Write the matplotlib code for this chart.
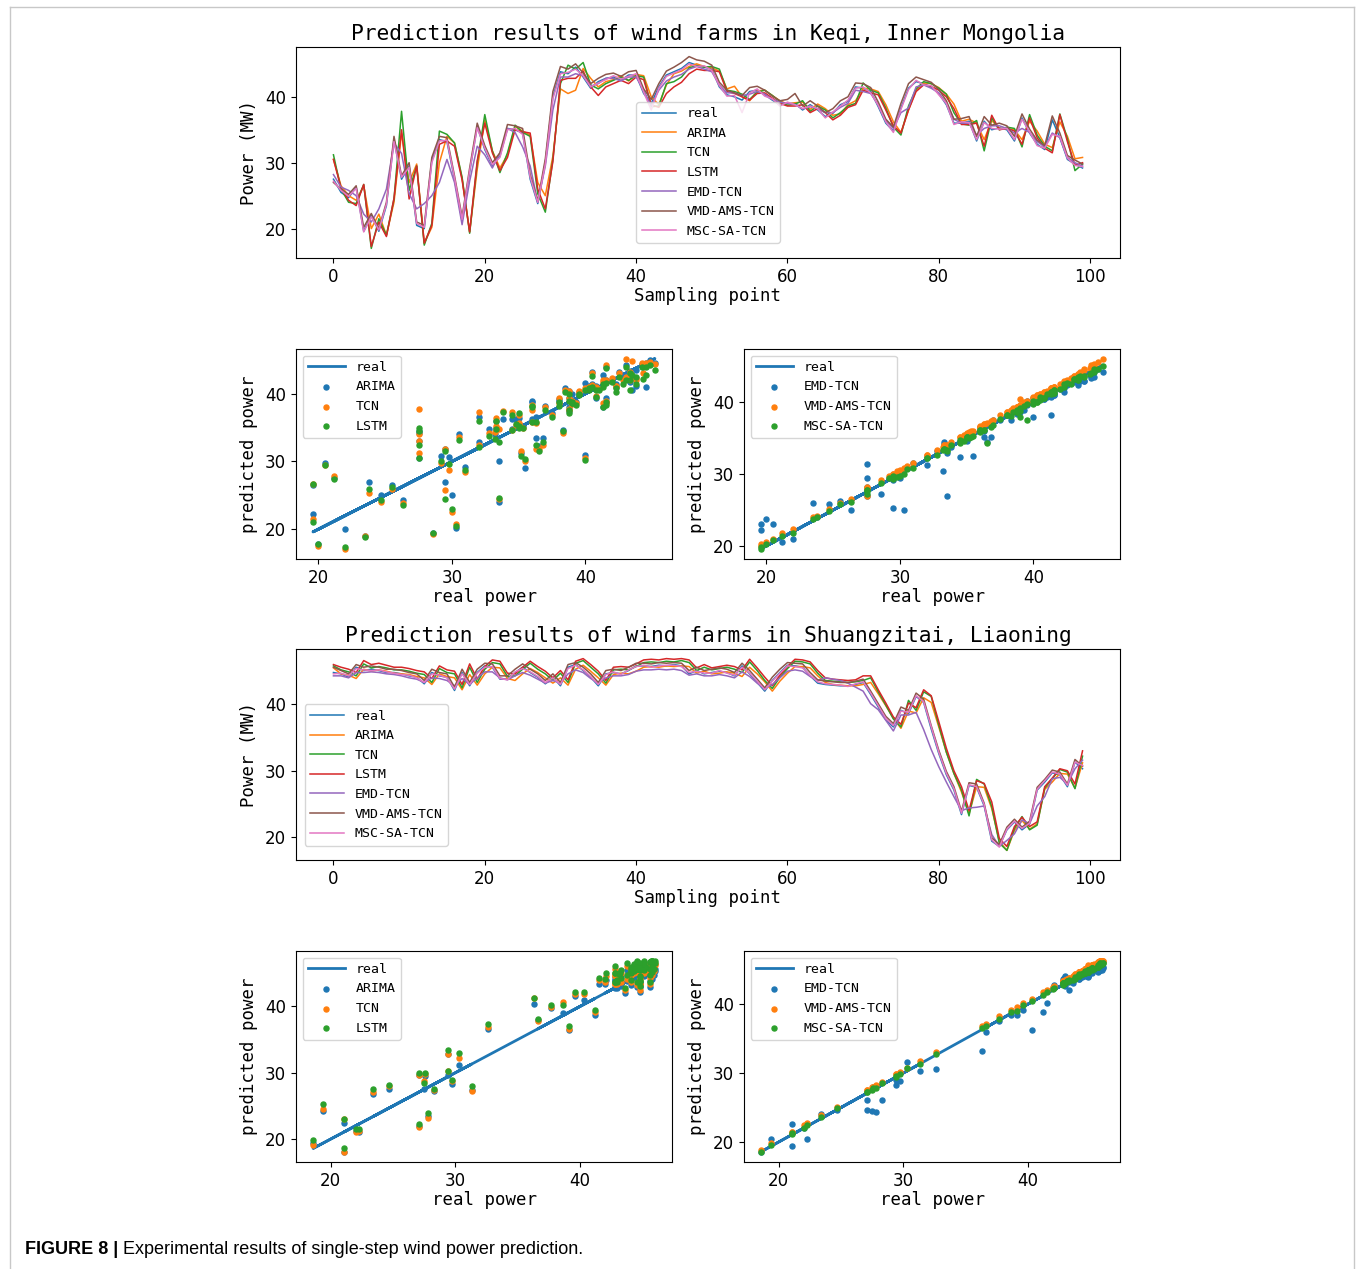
import matplotlib
matplotlib.use('Agg')
import matplotlib.pyplot as plt
from matplotlib.lines import Line2D

# ---------------- data: Keqi, Inner Mongolia ----------------
keqi_real = [27.5, 25.5, 24.7, 26.3, 19.6, 22.0, 19.6, 23.5, 33.5, 27.5,
             29.5, 20.5, 20.0, 30.3, 33.5, 33.2, 27.5, 21.2, 28.6, 35.5,
             32.0, 29.5, 31.0, 35.2, 35.0, 34.5, 27.5, 23.8, 30.0, 40.0,
             43.8, 43.5, 44.5, 43.0, 41.3, 42.3, 42.8, 43.0, 42.5, 43.3,
             43.3, 40.5, 39.0, 41.5, 43.3, 43.8, 44.3, 45.2, 44.8, 44.5,
             44.2, 41.5, 40.3, 40.0, 39.5, 40.8, 41.0, 40.3, 39.5, 38.8,
             39.0, 39.0, 38.0, 38.8, 38.0, 37.0, 37.5, 38.8, 39.3, 41.5,
             41.3, 40.8, 38.5, 36.0, 34.8, 38.3, 41.3, 42.3, 42.0, 41.5,
             40.5, 38.8, 36.0, 36.0, 36.3, 33.3, 36.3, 35.0, 35.3, 35.0,
             33.3, 36.8, 34.5, 32.8, 32.0, 36.5, 33.8, 30.5, 29.8, 29.2]
keqi_arima = [30.5, 26.5, 25.0, 24.3, 26.5, 20.0, 22.2, 19.0, 24.0, 34.5,
              27.0, 29.8, 17.8, 20.2, 30.0, 34.0, 33.0, 27.6, 19.5, 29.0,
              36.5, 31.8, 29.2, 31.2, 35.5, 34.8, 34.2, 27.0, 25.0, 31.0,
              41.2, 40.5, 41.0, 44.3, 42.8, 41.5, 42.3, 42.6, 43.2, 42.4,
              43.4, 43.2, 40.0, 38.8, 41.8, 43.5, 43.9, 44.6, 45.0, 44.6,
              44.4, 43.9, 41.2, 41.6, 40.0, 39.4, 40.9, 41.0, 40.2, 39.4,
              38.9, 39.1, 39.2, 38.1, 38.9, 38.2, 37.2, 37.4, 38.8, 39.4,
              41.3, 41.2, 40.8, 38.8, 36.2, 34.6, 38.0, 41.0, 42.1, 42.0,
              41.4, 40.4, 38.9, 36.3, 36.6, 36.0, 33.5, 36.4, 35.2, 35.2,
              35.0, 33.5, 36.3, 34.8, 32.8, 32.3, 36.2, 34.0, 30.6, 30.8]
keqi_tcn = [31.2, 26.0, 24.0, 23.8, 26.7, 17.0, 21.5, 19.0, 24.5, 37.8,
            25.8, 29.5, 17.5, 20.8, 34.8, 34.3, 33.0, 27.8, 19.3, 30.0,
            37.3, 31.8, 28.5, 31.5, 35.7, 34.6, 34.0, 25.3, 22.5, 30.5,
            42.0, 44.8, 44.2, 45.2, 41.8, 41.2, 42.0, 42.5, 43.0, 42.5,
            43.2, 43.0, 38.5, 38.6, 42.0, 42.3, 43.0, 44.4, 44.7, 44.5,
            44.6, 44.2, 41.0, 40.8, 40.4, 39.6, 40.7, 41.0, 40.2, 39.3,
            38.7, 38.9, 39.4, 37.8, 38.6, 38.0, 36.8, 37.6, 38.6, 39.0,
            42.1, 41.0, 40.6, 38.3, 35.4, 34.2, 38.6, 41.2, 42.3, 42.0,
            41.3, 40.4, 37.6, 35.9, 35.7, 36.4, 31.8, 36.8, 35.0, 35.4,
            35.2, 32.4, 37.3, 34.2, 32.5, 31.8, 37.4, 33.6, 28.8, 29.8]
keqi_lstm = [30.5, 26.2, 24.3, 23.5, 26.7, 17.3, 21.0, 18.8, 24.6, 35.0,
             24.5, 29.5, 17.8, 20.5, 32.8, 33.3, 32.5, 27.4, 19.5, 30.3,
             36.0, 31.5, 28.8, 30.8, 35.0, 34.7, 34.5, 26.0, 23.0, 30.2,
             42.5, 42.8, 42.8, 43.9, 41.5, 40.2, 41.5, 42.0, 42.5, 42.0,
             43.0, 42.6, 38.8, 38.4, 40.5, 41.5, 42.2, 43.5, 44.2, 44.0,
             44.0, 43.8, 40.8, 40.5, 40.0, 39.5, 40.5, 40.6, 39.8, 39.0,
             38.6, 38.6, 38.8, 37.6, 38.2, 37.6, 36.5, 37.2, 38.4, 38.8,
             41.0, 40.6, 40.3, 38.0, 35.6, 34.5, 38.0, 40.8, 41.8, 41.6,
             41.0, 40.0, 38.2, 35.8, 35.8, 36.0, 32.5, 37.2, 35.0, 35.2,
             34.8, 32.8, 36.8, 33.8, 32.2, 31.5, 37.3, 33.2, 29.6, 30.0]
keqi_emd = [28.2, 26.3, 25.8, 25.0, 22.2, 21.0, 23.0, 26.0, 33.0, 31.4,
            25.3, 23.0, 23.8, 25.0, 27.0, 30.5, 27.0, 20.6, 27.2, 32.5,
            31.2, 29.2, 31.5, 35.2, 34.6, 32.4, 29.5, 24.0, 29.5, 38.0,
            43.0, 43.0, 43.5, 43.2, 41.6, 42.0, 42.8, 42.8, 42.4, 43.0,
            43.0, 41.0, 38.6, 41.0, 42.4, 43.0, 43.4, 44.2, 44.6, 44.2,
            43.8, 41.8, 40.6, 40.6, 40.2, 40.4, 40.8, 40.4, 39.6, 39.2,
            39.0, 38.8, 38.2, 38.5, 38.2, 37.6, 37.6, 38.4, 39.0, 41.0,
            40.8, 40.5, 38.8, 36.4, 35.2, 37.6, 38.3, 41.5, 41.8, 41.3,
            40.6, 39.0, 36.6, 36.0, 36.0, 34.2, 35.2, 35.6, 35.6, 35.2,
            34.5, 35.2, 34.6, 33.2, 32.4, 34.5, 33.8, 30.8, 30.0, 29.5]
keqi_vmd = [27.0, 26.0, 25.2, 26.5, 20.2, 22.3, 20.0, 24.0, 34.0, 28.0,
            30.0, 21.0, 20.5, 30.8, 34.0, 33.8, 28.0, 21.8, 29.2, 36.0,
            32.6, 30.0, 31.5, 35.8, 35.6, 35.2, 28.2, 24.2, 30.6, 40.8,
            44.6, 44.2, 45.0, 43.6, 42.0, 42.8, 43.4, 43.6, 43.1, 43.8,
            44.0, 41.2, 39.6, 42.0, 43.9, 44.5, 45.2, 46.1, 45.6, 45.4,
            44.8, 42.2, 41.0, 40.6, 40.2, 41.4, 41.6, 41.0, 40.1, 39.4,
            39.6, 40.5, 38.6, 39.4, 38.6, 37.6, 38.2, 39.4, 40.0, 42.1,
            42.0, 41.4, 39.2, 36.6, 35.4, 39.0, 42.0, 43.0, 42.6, 42.2,
            41.1, 39.4, 36.6, 36.7, 37.0, 34.0, 37.0, 35.7, 36.0, 35.6,
            34.0, 37.4, 35.1, 33.4, 32.6, 37.1, 34.5, 31.1, 30.4, 29.8]
keqi_msc = [27.2, 25.8, 24.9, 26.1, 19.5, 21.8, 19.8, 23.7, 33.2, 27.8,
            29.3, 20.8, 20.2, 30.0, 33.3, 33.4, 27.7, 21.4, 28.8, 35.3,
            32.2, 29.7, 30.8, 35.0, 35.2, 34.3, 27.8, 24.0, 29.8, 39.7,
            43.5, 43.7, 44.2, 43.2, 41.5, 42.1, 42.6, 43.2, 42.7, 43.1,
            43.5, 40.7, 38.0, 41.3, 43.1, 43.6, 44.1, 45.0, 44.6, 44.7,
            44.0, 41.7, 40.1, 40.2, 37.6, 40.6, 41.2, 40.1, 39.7, 38.6,
            39.2, 38.8, 38.2, 38.6, 38.2, 36.8, 37.7, 38.6, 39.5, 41.3,
            41.5, 40.6, 38.7, 36.2, 34.6, 38.1, 41.1, 42.5, 41.8, 41.7,
            40.3, 39.0, 35.8, 36.2, 36.1, 33.5, 36.1, 35.2, 35.1, 35.2,
            33.5, 36.6, 34.7, 32.6, 32.2, 34.3, 34.0, 30.7, 29.6, 29.4]

# ---------------- data: Shuangzitai, Liaoning ----------------
szt_real = [44.8, 44.6, 44.1, 45.6, 45.1, 45.3, 45.1, 44.8, 44.8, 44.6,
            44.3, 44.1, 43.1, 44.8, 44.3, 44.1, 42.1, 44.8, 42.8, 44.8,
            45.8, 45.6, 43.8, 43.8, 44.8, 45.6, 44.8, 44.1, 43.1, 44.1,
            42.8, 45.6, 46.0, 45.1, 44.1, 42.8, 44.6, 44.8, 44.6, 45.1,
            45.8, 45.8, 45.7, 45.9, 45.8, 46.0, 45.8, 44.6, 45.1, 44.6,
            44.8, 45.0, 44.8, 44.3, 45.8, 44.6, 43.3, 42.0, 43.6, 44.8,
            45.9, 45.8, 45.6, 44.3, 43.2, 43.0, 42.9, 42.8, 42.8, 43.0,
            43.3, 41.5, 39.6, 37.7, 36.6, 39.1, 38.6, 41.2, 40.3, 36.3,
            32.6, 29.4, 27.1, 23.4, 27.8, 27.5, 24.7, 19.4, 18.6, 21.1,
            22.3, 21.1, 22.0, 27.1, 28.3, 29.7, 29.4, 27.6, 31.3, 30.3]
szt_arima = [45.5, 44.6, 44.4, 43.9, 45.3, 45.0, 45.2, 45.0, 44.7, 44.6,
             44.5, 44.2, 44.0, 43.0, 44.6, 44.2, 44.0, 42.2, 44.5, 42.9,
             44.6, 45.6, 45.5, 43.9, 43.6, 44.6, 45.4, 44.8, 44.0, 43.2,
             44.0, 42.9, 45.3, 45.9, 45.0, 44.0, 42.9, 44.5, 44.7, 44.6,
             45.0, 45.6, 45.7, 45.6, 45.8, 45.7, 45.8, 45.7, 44.7, 45.0,
             44.6, 44.7, 44.9, 44.7, 44.2, 45.6, 44.6, 43.4, 42.0, 43.5,
             44.7, 45.7, 45.7, 45.5, 44.3, 43.3, 43.0, 42.9, 42.8, 42.8,
             43.0, 43.3, 41.6, 39.8, 37.9, 36.4, 39.0, 38.7, 41.0, 40.3,
             36.6, 32.8, 29.6, 26.8, 23.5, 27.6, 27.5, 24.3, 19.4, 18.0,
             21.0, 22.5, 21.2, 22.0, 27.2, 28.3, 29.6, 29.5, 27.4, 31.2]
szt_tcn = [45.8, 45.2, 44.9, 44.3, 46.1, 45.5, 45.7, 45.5, 45.2, 45.2,
           45.0, 44.7, 44.5, 43.3, 45.4, 44.8, 44.6, 42.5, 45.6, 43.3,
           45.3, 46.3, 46.1, 44.2, 44.3, 45.3, 46.2, 45.3, 44.6, 43.6,
           44.7, 43.3, 46.2, 46.6, 45.6, 44.6, 43.2, 45.2, 45.3, 45.2,
           45.7, 46.3, 46.4, 46.3, 46.5, 46.4, 46.6, 46.3, 45.1, 45.6,
           45.2, 45.4, 45.6, 45.3, 44.8, 46.4, 45.1, 43.6, 42.4, 44.1,
           45.4, 46.5, 46.4, 46.1, 44.7, 43.6, 43.5, 43.4, 43.3, 43.4,
           43.6, 44.0, 41.9, 39.9, 37.8, 36.6, 40.6, 39.1, 41.9, 41.2,
           36.9, 32.8, 29.6, 27.1, 23.2, 28.7, 28.0, 24.6, 19.1, 18.0,
           21.3, 23.1, 21.1, 21.8, 27.4, 28.8, 30.2, 29.8, 27.3, 32.2]
szt_lstm = [46.0, 45.6, 45.3, 44.8, 46.6, 46.0, 46.2, 45.9, 45.6, 45.6,
            45.4, 45.1, 44.9, 43.9, 45.8, 45.2, 45.0, 43.0, 46.1, 43.8,
            45.7, 46.7, 46.5, 44.7, 44.6, 45.6, 46.5, 45.7, 45.0, 44.0,
            45.1, 43.7, 46.5, 46.9, 46.0, 45.0, 43.6, 45.6, 45.7, 45.6,
            46.1, 46.7, 46.8, 46.7, 46.9, 46.8, 46.9, 46.7, 45.5, 46.0,
            45.5, 45.7, 45.9, 45.7, 45.2, 46.8, 45.5, 44.1, 42.8, 44.4,
            45.7, 46.8, 46.7, 46.4, 45.1, 44.0, 43.8, 43.7, 43.6, 43.7,
            44.3, 44.3, 42.2, 40.2, 38.1, 37.0, 40.2, 39.5, 42.2, 41.3,
            37.4, 33.4, 30.0, 27.6, 24.0, 28.5, 28.1, 25.3, 19.8, 18.6,
            21.6, 23.0, 21.6, 22.3, 27.6, 28.9, 30.3, 30.0, 28.0, 33.0]
szt_emd = [44.3, 44.3, 44.0, 44.8, 44.8, 44.9, 44.8, 44.6, 44.5, 44.3,
           44.0, 43.8, 43.3, 44.0, 43.9, 43.6, 42.8, 43.9, 43.0, 44.0,
           44.9, 44.9, 44.0, 43.7, 44.3, 44.8, 44.4, 43.8, 43.2, 43.6,
           43.2, 44.6, 45.2, 44.8, 43.9, 43.2, 44.0, 44.3, 44.3, 44.5,
           45.0, 45.2, 45.2, 45.3, 45.2, 45.3, 45.1, 44.4, 44.6, 44.3,
           44.3, 44.5, 44.3, 44.0, 44.9, 44.2, 43.2, 42.4, 43.0, 44.0,
           45.0, 45.2, 45.0, 44.2, 43.6, 44.0, 43.8, 43.6, 43.2, 42.6,
           42.0, 40.1, 39.2, 37.6, 36.0, 38.4, 38.4, 38.8, 36.2, 33.2,
           30.6, 28.3, 26.1, 24.0, 24.4, 24.5, 24.7, 20.4, 18.6, 19.5,
           20.5, 22.6, 22.0, 24.7, 26.1, 28.8, 29.0, 28.0, 30.3, 31.6]
szt_vmd = [45.6, 45.1, 44.6, 46.0, 45.6, 45.8, 45.6, 45.3, 45.3, 45.1,
           44.8, 44.6, 43.6, 45.3, 44.8, 44.6, 42.6, 45.3, 43.3, 45.3,
           46.2, 46.1, 44.3, 44.3, 45.3, 46.1, 45.3, 44.6, 43.6, 44.6,
           43.3, 46.0, 46.3, 45.6, 44.6, 43.3, 45.1, 45.3, 45.1, 45.6,
           46.2, 46.2, 46.1, 46.3, 46.2, 46.3, 46.2, 45.1, 45.6, 45.1,
           45.3, 45.5, 45.3, 44.8, 46.2, 45.1, 43.8, 42.5, 44.1, 45.3,
           46.3, 46.2, 46.1, 44.8, 43.7, 43.5, 43.4, 43.3, 43.3, 43.5,
           43.8, 42.0, 40.1, 38.2, 37.1, 39.6, 39.1, 41.7, 40.8, 36.8,
           33.1, 29.9, 27.6, 23.9, 28.2, 28.0, 25.1, 19.9, 18.9, 21.5,
           22.7, 21.5, 22.4, 27.5, 28.7, 30.1, 29.8, 28.0, 31.7, 30.7]
szt_msc = [44.6, 44.7, 44.3, 45.4, 45.2, 45.1, 45.2, 44.9, 44.7, 44.5,
           44.4, 44.0, 43.3, 44.6, 44.4, 44.0, 42.3, 44.6, 43.0, 44.7,
           45.6, 45.7, 43.9, 43.7, 44.9, 45.4, 44.9, 44.2, 43.3, 44.0,
           43.0, 45.4, 45.9, 45.2, 44.2, 43.0, 44.5, 44.9, 44.5, 45.2,
           45.7, 45.9, 45.6, 45.8, 45.9, 45.9, 45.7, 44.8, 45.0, 44.7,
           44.7, 45.1, 44.7, 44.4, 45.6, 44.7, 43.5, 42.2, 43.5, 44.7,
           45.8, 45.7, 45.5, 44.4, 43.4, 43.1, 43.0, 42.9, 42.7, 43.1,
           43.4, 41.7, 39.8, 37.9, 36.8, 39.0, 38.8, 41.3, 40.4, 36.6,
           32.8, 29.6, 27.3, 23.6, 27.9, 27.6, 24.9, 19.6, 18.5, 21.2,
           22.4, 21.3, 22.1, 27.2, 28.5, 29.8, 29.5, 27.8, 31.3, 30.8]

series_names = ['real', 'ARIMA', 'TCN', 'LSTM', 'EMD-TCN', 'VMD-AMS-TCN', 'MSC-SA-TCN']
titles = ['Prediction results of wind farms in Keqi, Inner Mongolia',
          'Prediction results of wind farms in Shuangzitai, Liaoning']
caption_bold = 'FIGURE 8 |'
caption_text = 'Experimental results of single-step wind power prediction.'

keqi = [keqi_real, keqi_arima, keqi_tcn, keqi_lstm, keqi_emd, keqi_vmd, keqi_msc]
szt = [szt_real, szt_arima, szt_tcn, szt_lstm, szt_emd, szt_vmd, szt_msc]

# ---------------- figure ----------------
W, H = 1357, 1269
fig = plt.figure(figsize=(W / 100, H / 100), dpi=100)
MONO = 'DejaVu Sans Mono'
colors = ['C0', 'C1', 'C2', 'C3', 'C4', 'C5', 'C6']


def ax_px(l, t, r, b):
    return fig.add_axes([l / W, 1 - b / H, (r - l) / W, (b - t) / H])


def style(ax):
    ax.tick_params(labelsize=12)


def line_panel(ax, data, title, legend_center):
    xs = list(range(len(data[0])))
    for k, (name, ys) in enumerate(zip(series_names, data)):
        ax.plot(xs, ys, color=colors[k], lw=1.1, label=name)
    ax.set_title(title, fontfamily=MONO, fontsize=15.3, pad=5)
    ax.set_xlabel('Sampling point', fontfamily=MONO, fontsize=12.5, labelpad=1)
    ax.set_ylabel('Power (MW)', fontfamily=MONO, fontsize=12.5, labelpad=5)
    ax.set_xticks([0, 20, 40, 60, 80, 100])
    ax.set_yticks([20, 30, 40])
    style(ax)
    ax.legend(loc='center', bbox_to_anchor=legend_center,
              prop={'family': MONO, 'size': 9.5}, handlelength=2.6,
              labelspacing=0.5)


def scatter_panel(ax, real, preds, names):
    ax.plot(real, real, color='C0', lw=2.0, label='real')
    for k, (p, n) in enumerate(zip(preds, names)):
        ax.scatter(real, p, s=13, color=colors[k], label=n, zorder=3)
    ax.set_xlabel('real power', fontfamily=MONO, fontsize=12.5, labelpad=1)
    ax.set_ylabel('predicted power', fontfamily=MONO, fontsize=12.5, labelpad=5)
    ax.set_xticks([20, 30, 40])
    ax.set_yticks([20, 30, 40])
    style(ax)
    ax.legend(loc='upper left', prop={'family': MONO, 'size': 9.5},
              handlelength=2.8, labelspacing=0.5, scatterpoints=1)


ax1 = ax_px(296, 47, 1120, 258)
line_panel(ax1, keqi, titles[0], (0.5, 0.405))

ax2 = ax_px(296, 349, 672, 559)
scatter_panel(ax2, keqi_real, [keqi_arima, keqi_tcn, keqi_lstm], series_names[1:4])
ax3 = ax_px(744, 349, 1120, 559)
scatter_panel(ax3, keqi_real, [keqi_emd, keqi_vmd, keqi_msc], series_names[4:7])

ax4 = ax_px(296, 649, 1120, 860)
line_panel(ax4, szt, titles[1], (0.0975, 0.403))

ax5 = ax_px(296, 951, 672, 1162)
scatter_panel(ax5, szt_real, [szt_arima, szt_tcn, szt_lstm], series_names[1:4])
ax6 = ax_px(744, 951, 1120, 1162)
scatter_panel(ax6, szt_real, [szt_emd, szt_vmd, szt_msc], series_names[4:7])

# outer frame of the figure panel
fc = '#c8c8c8'
fig.add_artist(Line2D([10 / W, 10 / W], [0, 1 - 7 / H], color=fc, lw=1, transform=fig.transFigure))
fig.add_artist(Line2D([1354 / W, 1354 / W], [0, 1 - 7 / H], color=fc, lw=1, transform=fig.transFigure))
fig.add_artist(Line2D([10 / W, 1354 / W], [1 - 7 / H, 1 - 7 / H], color=fc, lw=1, transform=fig.transFigure))

# caption
t1 = fig.text(25 / W, 1 - 1250 / H, caption_bold, fontfamily='Liberation Sans',
              fontweight='bold', fontsize=13, va='center', ha='left')
fig.canvas.draw()
bb = t1.get_window_extent()
fig.text((bb.x1 + 5) / W, 1 - 1250 / H, caption_text, fontfamily='Liberation Sans',
         fontsize=13, va='center', ha='left')

fig.savefig('out.png', dpi=100)
